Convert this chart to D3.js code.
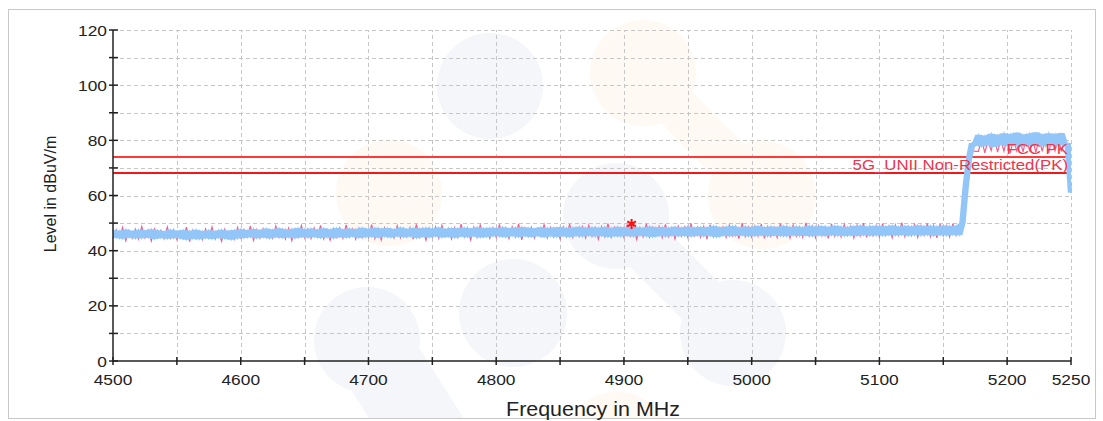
<!DOCTYPE html>
<html><head><meta charset="utf-8">
<script src="https://cdn.jsdelivr.net/npm/d3@7"></script>
<style>body{margin:0;background:#fff}svg{display:block;font-family:"Liberation Sans",Arial,sans-serif}</style>
</head><body><svg id="c" width="1103" height="421"></svg>
<script>
// ---------- data ----------
const freqs = d3.range(4500, 5250.1, 2.5); // MHz, 301 points
const blueTrace = [
47.5,44.6,47.2,44.3,47.7,44.8,47.1,44.4,47.6,44.5,
47.3,44.7,47.8,44.2,47.4,44.6,47.0,44.3,47.6,44.5,
47.2,44.4,47.5,44.0,47.1,44.3,47.6,44.1,47.0,44.5,
47.4,44.2,47.1,44.6,47.6,44.3,47.2,44.0,47.5,44.4,
47.8,44.6,47.4,44.9,47.9,44.5,47.5,44.8,48.0,44.4,
47.6,44.9,48.1,44.6,47.7,44.8,47.9,44.5,48.2,44.9,
47.8,44.7,48.0,45.0,47.6,44.6,48.1,44.8,47.7,44.5,
48.2,44.9,47.7,44.7,48.0,45.1,47.8,44.6,48.3,44.9,
47.9,45.0,48.3,44.7,48.0,45.1,48.2,44.8,47.8,45.2,
48.4,44.9,47.9,45.1,48.2,44.6,48.0,45.0,48.3,44.8,
48.0,45.2,48.4,44.8,47.9,45.0,48.2,44.7,48.1,45.1,
48.3,44.9,48.0,45.2,48.5,44.8,48.1,45.0,48.3,45.2,
48.2,45.1,48.5,44.9,48.1,45.3,48.4,45.0,48.6,45.2,
48.3,45.0,48.0,45.3,48.5,44.9,48.2,45.2,48.4,45.0,
48.6,45.2,48.2,45.0,48.4,45.3,48.7,45.1,48.3,45.4,
48.5,45.1,48.3,45.3,48.6,45.0,48.2,45.2,48.7,45.1,
48.4,45.3,48.7,45.1,48.5,45.4,48.3,45.2,48.8,45.0,
48.5,45.3,48.6,45.1,48.3,45.4,48.7,45.2,48.4,45.3,
48.8,45.1,48.4,45.4,48.6,45.2,48.5,45.3,48.9,45.0,
48.5,45.4,48.7,45.2,48.9,45.3,48.4,45.5,48.8,45.2,
48.6,45.3,48.9,45.5,48.5,45.2,48.8,45.4,48.6,45.3,
48.9,45.2,48.6,45.5,48.8,45.3,48.5,45.4,49.0,45.2,
48.7,45.5,48.9,45.3,48.6,45.6,49.0,45.4,48.8,45.3,
48.6,45.5,48.9,45.3,49.1,45.6,48.7,45.4,48.9,45.5,
49.0,45.4,48.8,45.6,49.1,45.5,48.7,45.7,49.0,45.4,
48.8,45.6,49.2,45.5,48.9,45.7,49.0,45.4,48.8,45.6,
49.1,45.5,48.9,45.7,49.0,45.6,
50.0,63.0,73.0,79.0,78.0,
82.0,77.8,81.6,78.3,82.4,77.6,81.9,78.5,82.6,77.9,
82.2,78.4,82.8,77.7,82.0,78.6,82.5,78.0,82.9,78.3,
82.1,77.9,82.6,78.4,82.3,78.1,82.7,78.2,
79.0,61.0];
const pinkTrace = [
44.3,47.6,44.6,48.4,43.6,47.3,44.5,47.8,44.2,48.7,
44.6,47.5,43.5,47.9,44.8,47.4,44.3,48.6,44.5,47.6,
44.1,47.2,44.4,48.5,43.3,47.4,44.3,47.1,44.0,47.9,
44.5,48.6,44.2,47.3,43.4,47.8,44.6,47.2,44.1,48.4,
44.6,47.7,44.9,48.9,43.7,47.6,44.5,48.0,44.8,47.5,
44.5,48.9,44.8,47.7,44.2,48.1,43.6,47.9,44.9,49.1,
44.7,47.8,44.4,48.2,44.9,49.2,44.3,47.6,43.8,48.0,
44.8,48.3,44.5,49.3,44.9,47.9,44.2,48.1,44.7,47.8,
44.9,49.4,44.4,48.0,43.9,48.3,45.0,47.9,44.6,49.0,
44.7,48.1,45.0,48.4,44.2,49.5,44.8,48.0,43.8,48.2,
44.9,48.6,44.5,49.2,45.1,48.1,44.3,48.4,44.8,49.6,
45.0,48.2,43.9,48.5,44.8,49.3,45.1,48.0,44.5,48.3,
44.8,49.5,45.2,48.3,44.4,48.6,45.0,49.7,43.9,48.2,
45.1,48.5,44.6,48.1,45.2,49.4,44.7,48.4,45.0,48.2,
44.3,48.6,45.1,49.6,44.8,48.3,45.2,48.7,44.6,49.2,
45.1,48.4,44.2,48.7,45.0,49.8,44.9,48.5,45.3,48.2,
44.8,49.3,45.2,48.6,44.1,48.4,45.0,49.7,44.9,48.5,
45.3,48.8,44.7,49.5,45.1,48.4,44.3,48.9,45.2,48.6,
44.8,49.9,45.3,48.5,44.9,48.8,44.2,49.4,45.1,48.7,
45.2,48.6,44.8,49.2,45.4,48.8,44.4,50.0,45.1,48.6,
44.9,48.9,45.3,49.6,44.5,48.7,45.2,48.5,44.8,49.8,
45.4,48.8,44.6,49.3,45.2,48.6,44.9,50.1,45.3,48.9,
44.7,49.0,45.4,48.7,44.5,49.7,45.3,48.8,45.0,49.5,
45.5,48.9,44.6,49.2,45.3,50.0,44.8,48.9,45.4,49.1,
45.0,49.8,45.5,48.9,44.7,49.3,45.6,50.2,45.1,48.9,
45.5,49.4,44.8,49.0,45.6,49.9,45.1,49.2,44.6,49.6,
45.4,49.0,45.0,49.8,45.5,49.1,
48.5,61.0,72.0,76.5,76.0,
76.0,80.4,75.5,79.8,76.3,81.0,75.7,80.2,76.1,80.8,
75.4,80.5,76.2,79.9,75.8,81.2,76.4,80.1,75.6,80.7,
76.0,81.0,75.5,80.3,76.2,80.9,75.9,80.4,
78.0,62.0];
const limitNames = ["FCC PK", "5G_UNII Non-Restricted(PK)"];
const limitValues = [74, 68.2];
const markerFreq = [4906];
const markerLevel = [49.7];
const yTicks = d3.range(0, 121, 10);
const yLabels = [0, 20, 40, 60, 80, 100, 120];
const xTicks = d3.range(4500, 5251, 50);
const xLabels = [4500, 4600, 4700, 4800, 4900, 5000, 5100, 5200, 5250];

// ---------- drawing ----------
const svg = d3.select("#c");
const x = d3.scaleLinear().domain([4500, 5250]).range([113, 1071]);
const y = d3.scaleLinear().domain([0, 120]).range([361, 30]);
const SX = 1.12; // horizontal stretch of the original rendering

svg.append("rect").attr("x", 8.5).attr("y", 9.5).attr("width", 1087).attr("height", 409)
  .attr("fill", "#fff").attr("stroke", "#c8c8c8");

// faint background watermark (decoration)
svg.append("clipPath").attr("id", "fr").append("rect").attr("x", 9).attr("y", 10).attr("width", 1086).attr("height", 408);
const wm = svg.append("g").attr("clip-path", "url(#fr)");
const grey = "#f5f6f9", orange = "#fef9f2";
const wmDecor = [
  {c: orange, circ: [[643,73,53],[762,195,54],[389,193,53],[617,447,55]], neck: [[643,73,762,195,44]]},
  {c: grey, circ: [[490,86,53],[616,216,53],[513,313,54],[367,340,53],[733,333,53]], neck: [[616,216,733,333,52],[367,340,430,440,80]]}
];
wmDecor.forEach(d => {
  wm.selectAll(null).data(d.neck).enter().append("line")
    .attr("x1", n => n[0]).attr("y1", n => n[1]).attr("x2", n => n[2]).attr("y2", n => n[3])
    .attr("stroke", d.c).attr("stroke-width", n => n[4]).attr("stroke-linecap", "round");
  wm.selectAll(null).data(d.circ).enter().append("circle")
    .attr("cx", n => n[0]).attr("cy", n => n[1]).attr("r", n => n[2]).attr("fill", d.c);
});

// grid
const grid = svg.append("g").attr("stroke", "#c6c6c6").attr("stroke-width", 1).attr("stroke-dasharray", "4,3");
grid.selectAll(null).data(yTicks.filter(v => v > 0)).enter().append("line")
  .attr("x1", x(4500)).attr("x2", x(5250)).attr("y1", d => Math.round(y(d)) + 0.5).attr("y2", d => Math.round(y(d)) + 0.5);
grid.selectAll(null).data(xTicks.filter(v => v > 4500)).enter().append("line")
  .attr("y1", y(0)).attr("y2", y(120)).attr("x1", d => Math.round(x(d)) + 0.5).attr("x2", d => Math.round(x(d)) + 0.5);

// limit lines
svg.append("g").selectAll(null).data(limitValues).enter().append("line")
  .attr("x1", x(4500)).attr("x2", x(5250)).attr("y1", d => y(d)).attr("y2", d => y(d))
  .attr("stroke", (d, i) => i === 0 ? "#ff3838" : "#f01818").attr("stroke-width", 2);

// traces
const pts = freqs.map((f, i) => {
  const nb = blueTrace.slice(Math.max(0, i - 1), i + 2);
  return {f, b: blueTrace[i], p: pinkTrace[i], lo: d3.min(nb), hi: d3.max(nb)};
});
svg.append("path").datum(pts)
  .attr("d", d3.line().x(d => x(d.f)).y(d => y(d.p)))
  .attr("fill", "none").attr("stroke", "#f2608e").attr("stroke-width", 1.2);
svg.append("path").datum(pts)
  .attr("d", d3.area().x(d => x(d.f)).y0(d => y(d.lo)).y1(d => y(d.hi)))
  .attr("fill", "#93c6f8");
svg.append("path").datum(pts)
  .attr("d", d3.line().x(d => x(d.f)).y(d => y(d.b)))
  .attr("fill", "none").attr("stroke", "#93c6f8").attr("stroke-width", 1.2);

// limit labels
const lab = svg.append("g").attr("font-size", 15).attr("fill", "#f0344c").attr("text-anchor", "end");
limitNames.forEach((n, i) => {
  lab.append("text").attr("transform", `translate(1068,${y(limitValues[i]) - 2.5}) scale(${SX},1)`).text(n);
});

// marker
svg.append("g").selectAll(null).data(markerFreq).enter().append("path")
  .attr("transform", (d, i) => `translate(${x(d)},${y(markerLevel[i])})`)
  .attr("d", d3.symbol(d3.symbolAsterisk, 70)())
  .attr("fill", "none").attr("stroke", "#ff1010").attr("stroke-width", 2);

// axes
const ax = svg.append("g").attr("stroke", "#222").attr("stroke-width", 1.5);
ax.append("line").attr("x1", x(4500)).attr("x2", x(4500)).attr("y1", y(0) + 1).attr("y2", y(120));
ax.append("line").attr("x1", x(4500)).attr("x2", x(5250)).attr("y1", y(0)).attr("y2", y(0));
ax.selectAll(null).data(yTicks).enter().append("line")
  .attr("x1", x(4500) - 4).attr("x2", x(4500) + 5).attr("y1", d => y(d)).attr("y2", d => y(d));
ax.selectAll(null).data(xTicks).enter().append("line")
  .attr("y1", y(0) - 4).attr("y2", y(0) + 4).attr("x1", d => x(d)).attr("x2", d => x(d));

const tl = svg.append("g").attr("font-size", 15.5).attr("fill", "#222");
tl.selectAll(null).data(yLabels).enter().append("text")
  .attr("text-anchor", "end")
  .attr("transform", d => `translate(${x(4500) - 6},${y(d) + 5.5}) scale(${SX},1)`)
  .text(d => d);
tl.selectAll(null).data(xLabels).enter().append("text")
  .attr("text-anchor", "middle")
  .attr("transform", d => `translate(${x(d)},${y(0) + 24}) scale(${SX},1)`)
  .text(d => d);

svg.append("text").attr("font-size", 19.5).attr("fill", "#222").attr("text-anchor", "middle")
  .attr("transform", `translate(593,416) scale(1.1,1)`).text("Frequency in MHz");
svg.append("text").attr("font-size", 16).attr("fill", "#222").attr("text-anchor", "middle")
  .attr("transform", `translate(56,194) rotate(-90)`).text("Level in dBuV/m");
</script></body></html>
